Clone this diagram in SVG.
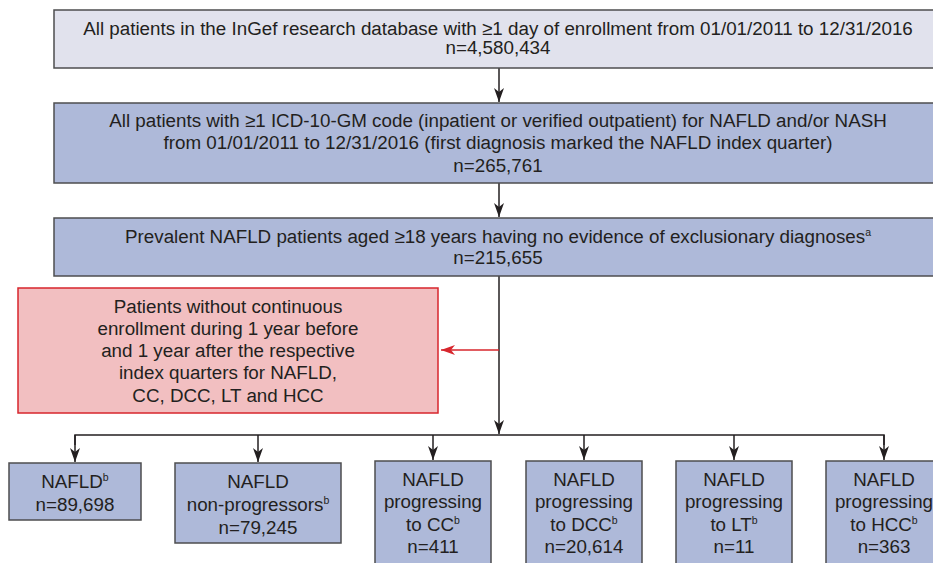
<svg xmlns="http://www.w3.org/2000/svg" width="933" height="563" viewBox="0 0 933 563">
<style>
text{font-family:"Liberation Sans",Arial,sans-serif;font-size:18.8px;fill:#231f20;text-anchor:middle}
.sup{font-size:10.5px}
.box{fill:#aeb9d9;stroke:#4d4d4f;stroke-width:1.5}
.top{fill:#e1e2ed;stroke:#4d4d4f;stroke-width:1.5}
.red{fill:#f2bfc1;stroke:#d7262d;stroke-width:1.5}
.ln{stroke:#231f20;stroke-width:1.5;fill:none}
.rln{stroke:#d7262d;stroke-width:1.5;fill:none}
</style>
<defs>
<marker id="ah" viewBox="0 0 14 12" refX="14" refY="6" markerWidth="14" markerHeight="12" markerUnits="userSpaceOnUse" orient="auto">
<path d="M0,1 L14,6 L0,11 L4,6 Z" fill="#231f20"/>
</marker>
<marker id="rah" viewBox="0 0 14 12" refX="14" refY="6" markerWidth="14" markerHeight="12" markerUnits="userSpaceOnUse" orient="auto">
<path d="M0,1 L14,6 L0,11 L4,6 Z" fill="#d7262d"/>
</marker>
</defs>
<g id="connectors">
<line class="ln" x1="499" y1="68" x2="499" y2="102" marker-end="url(#ah)"/>
<line class="ln" x1="499" y1="183" x2="499" y2="217" marker-end="url(#ah)"/>
<line class="ln" x1="499" y1="276" x2="499" y2="434" marker-end="url(#ah)"/>
<line class="rln" x1="499" y1="350" x2="441" y2="350" marker-end="url(#rah)"/>
<polyline class="ln" points="75,445 75,435 884,435 884,445"/>
<line class="ln" x1="75" y1="435" x2="75" y2="462" marker-end="url(#ah)"/>
<line class="ln" x1="258" y1="435" x2="258" y2="462" marker-end="url(#ah)"/>
<line class="ln" x1="433" y1="435" x2="433" y2="460" marker-end="url(#ah)"/>
<line class="ln" x1="584" y1="435" x2="584" y2="460" marker-end="url(#ah)"/>
<line class="ln" x1="734" y1="435" x2="734" y2="460" marker-end="url(#ah)"/>
<line class="ln" x1="884" y1="435" x2="884" y2="460" marker-end="url(#ah)"/>
</g>
<g id="n1">
<rect class="top" x="54" y="10" width="900" height="58"/>
<text x="498" y="35">All patients in the InGef research database with ≥1 day of enrollment from 01/01/2011 to 12/31/2016</text>
<text x="498" y="54">n=4,580,434</text>
</g>
<g id="n2">
<rect class="box" x="54" y="103" width="900" height="80"/>
<text x="498" y="127">All patients with ≥1 ICD-10-GM code (inpatient or verified outpatient) for NAFLD and/or NASH</text>
<text x="498" y="149">from 01/01/2011 to 12/31/2016 (first diagnosis marked the NAFLD index quarter)</text>
<text x="498" y="172">n=265,761</text>
</g>
<g id="n3">
<rect class="box" x="54" y="218" width="900" height="58"/>
<text x="498" y="243">Prevalent NAFLD patients aged ≥18 years having no evidence of exclusionary diagnoses<tspan class="sup" dy="-7">a</tspan></text>
<text x="498" y="264">n=215,655</text>
</g>
<g id="excl">
<rect class="red" x="18" y="288" width="420" height="125"/>
<text x="228" y="313">Patients without continuous</text>
<text x="228" y="335">enrollment during 1 year before</text>
<text x="228" y="357">and 1 year after the respective</text>
<text x="228" y="379">index quarters for NAFLD,</text>
<text x="228" y="402">CC, DCC, LT and HCC</text>
</g>
<g id="b1">
<rect class="box" x="9" y="463" width="132" height="57"/>
<text x="75" y="488">NAFLD<tspan class="sup" dy="-7">b</tspan></text>
<text x="75" y="511">n=89,698</text>
</g>
<g id="b2">
<rect class="box" x="175" y="463" width="166" height="80"/>
<text x="258" y="488">NAFLD</text>
<text x="258" y="511">non-progressors<tspan class="sup" dy="-7">b</tspan></text>
<text x="258" y="534">n=79,245</text>
</g>
<g id="b3">
<rect class="box" x="375" y="461" width="116" height="110"/>
<text x="433" y="486">NAFLD</text>
<text x="433" y="508">progressing</text>
<text x="433" y="531">to CC<tspan class="sup" dy="-7">b</tspan></text>
<text x="433" y="553">n=411</text>
</g>
<g id="b4">
<rect class="box" x="526" y="461" width="116" height="110"/>
<text x="584" y="486">NAFLD</text>
<text x="584" y="508">progressing</text>
<text x="584" y="531">to DCC<tspan class="sup" dy="-7">b</tspan></text>
<text x="584" y="553">n=20,614</text>
</g>
<g id="b5">
<rect class="box" x="676" y="461" width="116" height="110"/>
<text x="734" y="486">NAFLD</text>
<text x="734" y="508">progressing</text>
<text x="734" y="531">to LT<tspan class="sup" dy="-7">b</tspan></text>
<text x="734" y="553">n=11</text>
</g>
<g id="b6">
<rect class="box" x="826" y="461" width="116" height="110"/>
<text x="884" y="486">NAFLD</text>
<text x="884" y="508">progressing</text>
<text x="884" y="531">to HCC<tspan class="sup" dy="-7">b</tspan></text>
<text x="884" y="553">n=363</text>
</g>
</svg>
